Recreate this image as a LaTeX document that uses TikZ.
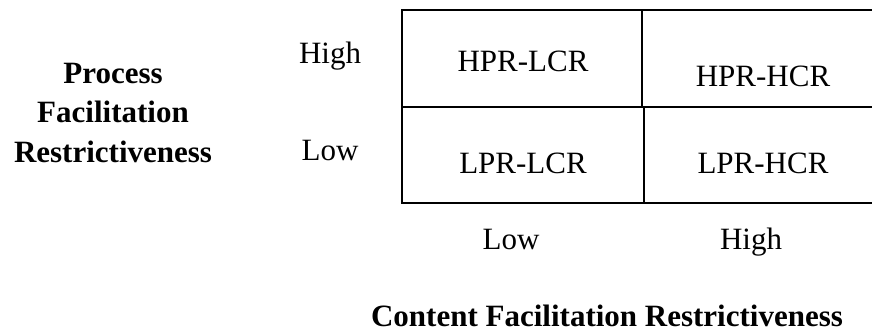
\documentclass[tikz,border=0pt]{standalone}
\usepackage{fontspec}
\setmainfont{Liberation Serif}
\begin{document}
\begin{tikzpicture}[x=1pt,y=1pt,
  lbl/.style={anchor=base,inner sep=0pt,font=\fontsize{31}{37}\selectfont},
  blbl/.style={anchor=base,inner sep=0pt,font=\fontsize{31}{37}\selectfont\bfseries},
  grid/.style={line width=2pt,line cap=rect}]
\useasboundingbox (0,0) rectangle (872,-333);
% grid corners
\coordinate (tl) at (402,-10);
\coordinate (tr) at (875,-10);
\coordinate (ml) at (402,-107);
\coordinate (mr) at (875,-107);
\coordinate (bl) at (402,-203);
\coordinate (br) at (875,-203);
\coordinate (dt) at (642,-10);
\coordinate (dm1) at (642,-107);
\coordinate (dm2) at (644,-107);
\coordinate (db) at (644,-203);
\draw[grid] (tr) -- (tl) -- (bl) -- (br);
\draw[grid] (ml) -- (mr);
\draw[grid] (dt) -- (dm1);
\draw[grid] (dm2) -- (db);
% cells
\node[lbl] (hl) at (523,-71) {HPR-LCR};
\node[lbl] (hh) at (763,-86) {HPR-HCR};
\node[lbl] (ll) at (523,-173) {LPR-LCR};
\node[lbl] (lh) at (763,-173) {LPR-HCR};
% axis level labels
\node[lbl] (yhigh) at (330,-63) {High};
\node[lbl] (ylow) at (330,-160) {Low};
\node[lbl] (xlow) at (511,-249) {Low};
\node[lbl] (xhigh) at (751,-249) {High};
% axis titles
\node[blbl] (p1) at (113,-83) {Process};
\node[blbl] (p2) at (113,-122) {Facilitation};
\node[blbl] (p3) at (113,-162) {Restrictiveness};
\node[blbl] (ct) at (607,-326) {Content Facilitation Restrictiveness};
\end{tikzpicture}
\end{document}
